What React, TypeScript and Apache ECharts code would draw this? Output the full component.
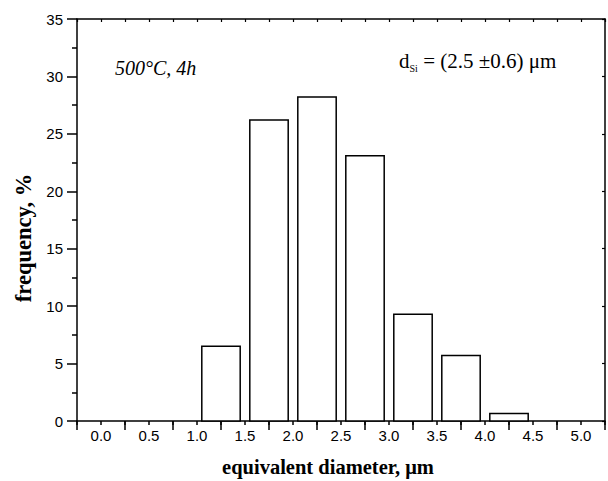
import React, { useEffect, useRef } from "react";
import * as echarts from "echarts";

const binStarts = [1.0, 1.5, 2.0, 2.5, 3.0, 3.5, 4.0];
const frequencies = [6.5, 26.2, 28.2, 23.1, 9.3, 5.7, 0.65];
const xTickValues = [0, 0.5, 1, 1.5, 2, 2.5, 3, 3.5, 4, 4.5, 5];
const yTickLabels = ["0", "5", "10", "15", "20", "25", "30", "35"];

const serif = "'Liberation Serif', 'Times New Roman', serif";
const sans = "'Liberation Sans', Arial, sans-serif";

export default function App() {
  const ref = useRef<HTMLDivElement>(null);
  useEffect(() => {
    if (!ref.current) return;
    const chart = echarts.init(ref.current, undefined, { renderer: "svg" });
    const axisLine = { show: true, onZero: false, lineStyle: { color: "#000", width: 1.5 } };
    chart.setOption({
      animation: false,
      backgroundColor: "#fff",
      grid: { left: 77, right: 2, top: 19, bottom: 60 },
      xAxis: [
        {
          type: "value",
          position: "bottom",
          min: -0.25,
          max: 5.25,
          interval: 0.25,
          axisLine,
          axisTick: { show: true, inside: false, length: 4, lineStyle: { color: "#000", width: 1.5 } },
          axisLabel: {
            margin: 7,
            color: "#000",
            fontFamily: sans,
            fontSize: 15,
            showMinLabel: true,
            showMaxLabel: true,
            formatter: (v: any) => {
              const n = Number(v);
              const hit = xTickValues.find((t) => Math.abs(t - n) < 1e-6);
              return hit === undefined ? "" : hit.toFixed(1);
            },
          },
          splitLine: { show: false },
        },
        {
          type: "value",
          position: "bottom",
          min: -0.25,
          max: 5.25,
          interval: 0.5,
          axisLine: { show: false, onZero: false },
          axisTick: { show: true, inside: false, length: 9, lineStyle: { color: "#000", width: 1.5 } },
          axisLabel: { show: false },
          splitLine: { show: false },
        },
        {
          type: "value",
          position: "top",
          min: -0.25,
          max: 5.25,
          interval: 0.25,
          axisLine,
          axisTick: { show: true, inside: true, length: 3, lineStyle: { color: "#000", width: 1.2 } },
          axisLabel: { show: false },
          splitLine: { show: false },
        },
      ],
      yAxis: [
        {
          type: "value",
          position: "left",
          min: 0,
          max: 35,
          interval: 5,
          axisLine,
          axisTick: { show: true, inside: false, length: 10, lineStyle: { color: "#000", width: 1.5 } },
          minorTick: { show: true, splitNumber: 2, length: 5, lineStyle: { color: "#000", width: 1.5 } },
          axisLabel: {
            margin: 14,
            color: "#000",
            fontFamily: sans,
            fontSize: 15,
            formatter: (v: any) => yTickLabels[Math.round(Number(v) / 5)] ?? "",
          },
          splitLine: { show: false },
        },
        {
          type: "value",
          position: "right",
          min: 0,
          max: 35,
          interval: 5,
          axisLine,
          axisTick: { show: true, inside: true, length: 3, lineStyle: { color: "#000", width: 1.2 } },
          axisLabel: { show: false },
          splitLine: { show: false },
        },
      ],
      series: [
        {
          type: "custom",
          xAxisIndex: 0,
          yAxisIndex: 0,
          data: binStarts.map((s, i) => [s, frequencies[i]]),
          renderItem: (_params: any, api: any) => {
            const start = api.value(0);
            const val = api.value(1);
            const p0 = api.coord([start + 0.05, val]);
            const p1 = api.coord([start + 0.45, 0]);
            return {
              type: "rect",
              shape: { x: p0[0], y: p0[1], width: p1[0] - p0[0], height: p1[1] - p0[1] },
              style: { fill: "#fff", stroke: "#000", lineWidth: 1.5 },
            };
          },
          z: 1,
        },
      ],
      graphic: [
        {
          type: "text",
          x: 23,
          y: 238,
          rotation: Math.PI / 2,
          style: {
            text: "frequency, %",
            fontFamily: serif,
            fontWeight: "bold",
            fontSize: 22.5,
            fill: "#000",
            align: "center",
            verticalAlign: "middle",
          },
        },
        {
          type: "text",
          x: 328,
          y: 467,
          style: {
            text: "equivalent diameter, \u03bcm",
            fontFamily: serif,
            fontWeight: "bold",
            fontSize: 20.5,
            fill: "#000",
            align: "center",
            verticalAlign: "middle",
          },
        },
        {
          type: "text",
          x: 115,
          y: 68,
          style: {
            text: "500\u00b0C, 4h",
            fontFamily: serif,
            fontStyle: "italic",
            fontSize: 20,
            fill: "#000",
            align: "left",
            verticalAlign: "middle",
          },
        },
        {
          type: "text",
          x: 399,
          y: 61,
          style: {
            text: "d",
            fontFamily: serif,
            fontSize: 21,
            fill: "#000",
            align: "left",
            verticalAlign: "middle",
          },
        },
        {
          type: "text",
          x: 409.5,
          y: 68,
          style: {
            text: "Si",
            fontFamily: serif,
            fontSize: 10,
            fill: "#000",
            align: "left",
            verticalAlign: "middle",
          },
        },
        {
          type: "text",
          x: 418,
          y: 61,
          style: {
            text: " = (2.5 \u00b10.6) \u03bcm",
            fontFamily: serif,
            fontSize: 21,
            fill: "#000",
            align: "left",
            verticalAlign: "middle",
          },
        },
      ],
    });
    return () => chart.dispose();
  }, []);
  return (
    <div
      ref={ref}
      style={{ position: "fixed", left: 0, top: 0, width: 608, height: 481, background: "#fff" }}
    />
  );
}
